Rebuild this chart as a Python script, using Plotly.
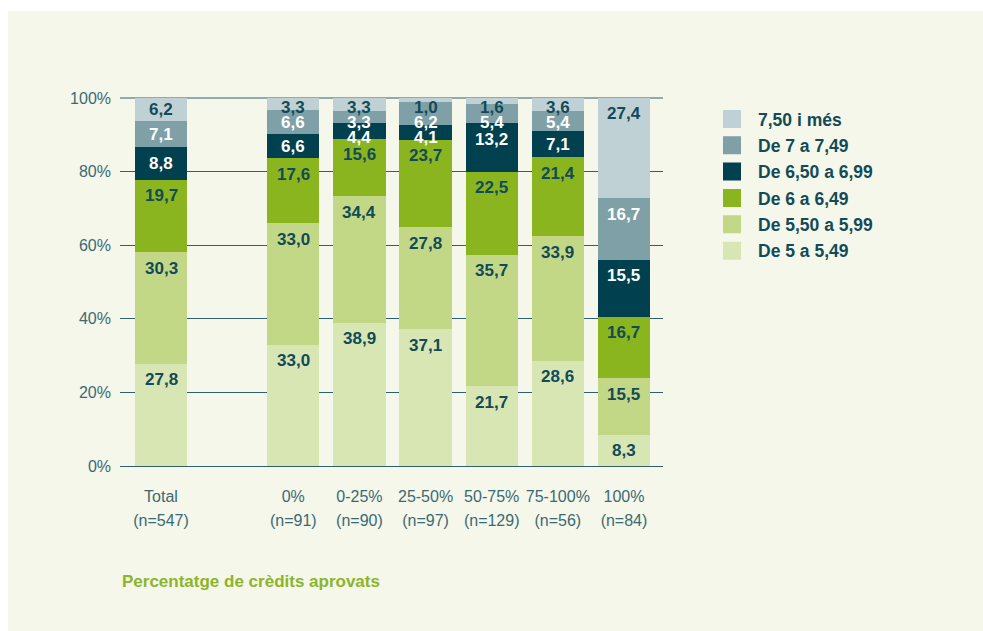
import plotly.graph_objects as go

# ---- data ----
categories = ["Total", "0%", "0-25%", "25-50%", "50-75%", "75-100%", "100%"]
n_labels = ["(n=547)", "(n=91)", "(n=90)", "(n=97)", "(n=129)", "(n=56)", "(n=84)"]
x_pos = [0, 2, 3, 4, 5, 6, 7]

series_names = ["De 5 a 5,49", "De 5,50 a 5,99", "De 6 a 6,49",
                "De 6,50 a 6,99", "De 7 a 7,49", "7,50 i més"]
s_5_549 = [27.8, 33.0, 38.9, 37.1, 21.7, 28.6, 8.3]
s_550_599 = [30.3, 33.0, 34.4, 27.8, 35.7, 33.9, 15.5]
s_6_649 = [19.7, 17.6, 15.6, 23.7, 22.5, 21.4, 16.7]
s_650_699 = [8.8, 6.6, 4.4, 4.1, 13.2, 7.1, 15.5]
s_7_749 = [7.1, 6.6, 3.3, 6.2, 5.4, 5.4, 16.7]
s_750 = [6.2, 3.3, 3.3, 1.0, 1.6, 3.6, 27.4]
series_values = [s_5_549, s_550_599, s_6_649, s_650_699, s_7_749, s_750]

y_ticks = [0, 20, 40, 60, 80, 100]
y_ticktext = ["0%", "20%", "40%", "60%", "80%", "100%"]

# ---- styles ----
colors = ["#d8e6b4", "#c2d887", "#8ab51f", "#00404f", "#80a0a8", "#c0d1d5"]
label_colors = ["#124a58", "#124a58", "#124a58", "#ffffff", "#ffffff", "#124a58"]
dark = "#124a58"
tick_col = "#3b6a74"
grid_col = "#2f5f6c"
panel = "#f4f7ea"
FONT = "Liberation Sans, Arial, sans-serif"

W, H = 983, 631
ML, MR, MT, MB = 120, 320, 98, 165
PW = W - ML - MR
PH = H - MT - MB
px_per_unit = PH / 100.0
YMAX = 100

fig = go.Figure()

for name, vals, col in zip(series_names, series_values, colors):
    fig.add_trace(go.Bar(
        x=x_pos, y=vals, name=name, marker=dict(color=col, line=dict(width=0)),
        width=0.79, showlegend=False, hoverinfo="y+name",
    ))

# legend entries (top to bottom: highest band first)
for i, (name, col) in enumerate(reversed(list(zip(series_names, colors)))):
    fig.add_trace(go.Scatter(
        x=[None], y=[None], mode="markers", name=name,
        marker=dict(symbol="square", size=16, color=col, line=dict(width=2, color=col)),
        legendgroup=f"g{i}", showlegend=True,
    ))

# value labels near the top of each segment, stacked top-down without overlap
annotations = []
n = len(x_pos)
tops = []
cum = [0.0] * n
for vals in series_values:
    row = []
    for j, v in enumerate(vals):
        cum[j] += v
        row.append(cum[j])
    tops.append(row)

for j in range(n):
    prev_px = -1e9
    for k in range(len(series_values) - 1, -1, -1):
        v = series_values[k][j]
        top = tops[k][j]
        anchor = min(top, YMAX)
        anchor_px = (YMAX - anchor) * px_per_unit
        seg_top_px = (YMAX - top) * px_per_unit
        h = v * px_per_unit
        off = min(16, max(9.5, h / 2))
        label_px = max(seg_top_px + off, prev_px + 15)
        prev_px = label_px
        annotations.append(dict(
            x=x_pos[j], y=anchor, xref="x", yref="y", yshift=-(label_px - anchor_px),
            text=f"{v:.1f}".replace(".", ","), showarrow=False,
            xanchor="center", yanchor="middle", borderpad=0,
            font=dict(family=FONT, size=17, color=label_colors[k], weight="bold"),
        ))

annotations.append(dict(
    x=0, y=-(581 - MT - PH) / PH, xref="paper", yref="paper",
    text="<b>Percentatge de crèdits aprovats</b>", showarrow=False,
    xanchor="left", yanchor="middle",
    font=dict(family=FONT, size=17, color="#8cb52a"),
))

tick_text = [f"<span style='font-size:16px'>{c}</span><br><span style='font-size:16px'>{m}</span>"
             for c, m in zip(categories, n_labels)]

shapes = [
    # light panel behind the chart (white border at top and left)
    dict(type="rect", xref="paper", yref="paper", layer="below",
         x0=(8 - ML) / PW, x1=1 + (MR + 5) / PW,
         y0=-(MB + 5) / PH, y1=1 + (MT - 11) / PH,
         fillcolor=panel, line=dict(width=0)),
    # gridline at 100% (top edge of the plot area)
    dict(type="line", xref="paper", yref="paper", layer="below",
         x0=0, x1=1, y0=1, y1=1, line=dict(color=grid_col, width=1.2)),
]

fig.update_layout(
    width=W, height=H,
    margin=dict(l=ML, r=MR, t=MT, b=MB, pad=0),
    paper_bgcolor="#ffffff", plot_bgcolor="rgba(0,0,0,0)",
    barmode="stack", bargap=0,
    font=dict(family=FONT, color=tick_col),
    annotations=annotations,
    shapes=shapes,
    legend=dict(x=(706 - ML) / PW, y=(MT + PH - 101) / PH, xanchor="left", yanchor="top",
                bgcolor="rgba(0,0,0,0)", font=dict(family=FONT, size=17.5, color=dark, weight="bold"),
                tracegroupgap=0.6, itemsizing="trace", itemwidth=42),
    xaxis=dict(range=[-0.62, 7.59], tickmode="array", tickvals=x_pos, ticktext=tick_text,
               showgrid=False, zeroline=False, showline=False, ticks="",
               ticklabelstandoff=16,
               tickfont=dict(family=FONT, size=18.5, color=tick_col), fixedrange=True),
    yaxis=dict(range=[0, YMAX], tickmode="array", tickvals=y_ticks, ticktext=y_ticktext,
               showgrid=True, gridcolor=grid_col, gridwidth=1.2, zeroline=True,
               zerolinecolor=grid_col, zerolinewidth=1.2, showline=False, ticks="",
               ticklabelstandoff=8,
               tickfont=dict(family=FONT, size=16, color=tick_col), fixedrange=True),
)

fig.write_html(
    "out.html",
    config={"displayModeBar": False},
    post_script="document.body.style.margin='0';document.documentElement.style.overflow='hidden';",
)
